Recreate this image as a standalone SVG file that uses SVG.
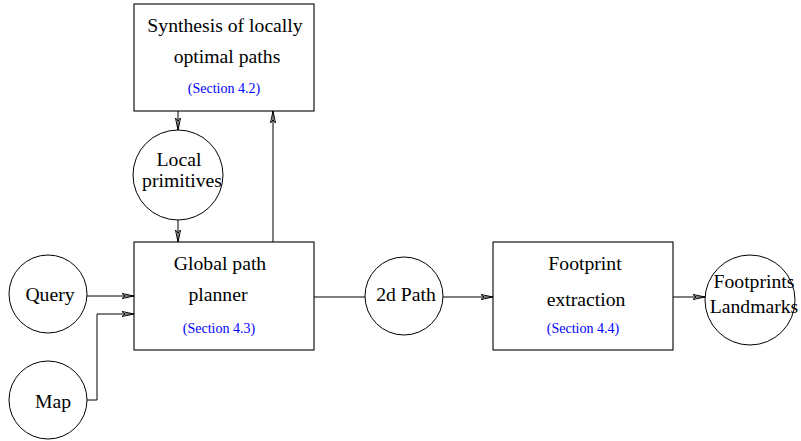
<svg xmlns="http://www.w3.org/2000/svg" width="801" height="441" viewBox="0 0 801 441">
<style>
.box{fill:none;stroke:#000;stroke-width:1.1}
.node{fill:none;stroke:#000;stroke-width:1}
.t{font-family:"Liberation Serif","Times New Roman",serif;font-size:19.7px;fill:#000;text-anchor:middle}
.s{font-family:"Liberation Serif","Times New Roman",serif;font-size:14px;fill:#0000ff;text-anchor:middle}
.c{fill:none;stroke:#000;stroke-width:1}
</style>
<defs>
<marker id="ah" markerWidth="14" markerHeight="8" refX="12" refY="4" orient="auto" markerUnits="userSpaceOnUse">
<path d="M0,1.5 L12,4 L0,6.5 L3,4 Z" fill="none" stroke="#000" stroke-width="1"/>
</marker>
</defs>
<rect width="801" height="441" fill="#fff"/>
<g id="synthesis">
<rect class="box" x="134" y="4" width="180" height="107"/>
<text class="t" x="225" y="32">Synthesis of locally</text>
<text class="t" x="227" y="63">optimal paths</text>
<text class="s" x="224" y="93">(Section 4.2)</text>
</g>
<g id="local">
<circle class="node" cx="178" cy="175" r="45"/>
<text class="t" x="179" y="166">Local</text>
<text class="t" x="182" y="187">primitives</text>
</g>
<g id="global">
<rect class="box" x="134" y="242" width="180" height="108"/>
<text class="t" x="220" y="270">Global path</text>
<text class="t" x="218" y="301">planner</text>
<text class="s" x="219" y="333">(Section 4.3)</text>
</g>
<g id="query">
<circle class="node" cx="48" cy="294" r="39"/>
<text class="t" x="50" y="301">Query</text>
</g>
<g id="map">
<circle class="node" cx="48" cy="400" r="39"/>
<text class="t" x="53" y="408">Map</text>
</g>
<g id="path2d">
<circle class="node" cx="404" cy="296" r="39"/>
<text class="t" x="406" y="301">2d Path</text>
</g>
<g id="footprint">
<rect class="box" x="493" y="242" width="180" height="108"/>
<text class="t" x="585" y="270">Footprint</text>
<text class="t" x="586" y="306">extraction</text>
<text class="s" x="583" y="333">(Section 4.4)</text>
</g>
<g id="footprints">
<circle class="node" cx="750" cy="300" r="45"/>
<text class="t" x="754" y="288">Footprints</text>
<text class="t" x="754" y="313">Landmarks</text>
</g>
<g id="connectors">
<line class="c" x1="178" y1="111" x2="178" y2="130" marker-end="url(#ah)"/>
<line class="c" x1="178" y1="220" x2="178" y2="242" marker-end="url(#ah)"/>
<line class="c" x1="273" y1="242" x2="273" y2="111" marker-end="url(#ah)"/>
<line class="c" x1="87" y1="296" x2="134" y2="296" marker-end="url(#ah)"/>
<polyline class="c" points="87,400 97,400 97,314 134,314" marker-end="url(#ah)"/>
<line class="c" x1="314" y1="297" x2="365" y2="297"/>
<line class="c" x1="443" y1="297" x2="493" y2="297" marker-end="url(#ah)"/>
<line class="c" x1="673" y1="297" x2="705" y2="297" marker-end="url(#ah)"/>
</g>
</svg>
